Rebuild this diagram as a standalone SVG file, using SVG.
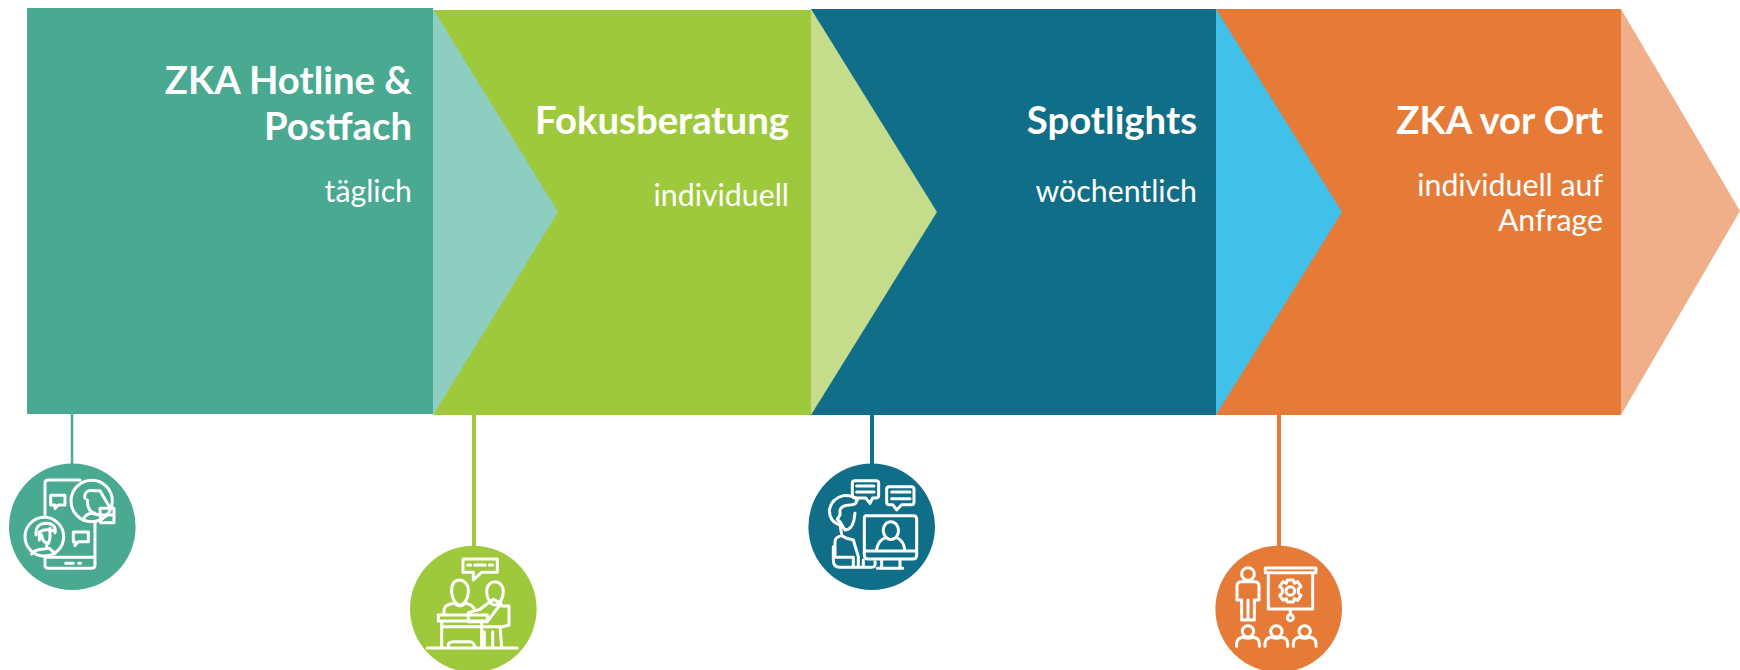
<svg xmlns="http://www.w3.org/2000/svg" width="1740" height="670" viewBox="0 0 1740 670">
<style>
text{font-family:"Lato","Liberation Sans",sans-serif;fill:#fff;text-anchor:end}
.t{font-weight:700;font-size:38.3px}
.s{font-size:30.3px}
.i{fill:none;stroke:#fff;stroke-width:9;stroke-linejoin:round;stroke-linecap:round}
</style>
<rect width="1740" height="670" fill="#fff"/>
<g id="chevrons">
<polygon points="1621,9 1740,211 1621,415" fill="#F1AF89"/>
<rect x="1216" y="9" width="405" height="406" fill="#E67B38"/>
<polygon points="1216,9 1342,212 1216,415" fill="#41C0E9"/>
<rect x="811" y="9" width="405" height="406" fill="#116E89"/>
<polygon points="811,9 937,212 811,415" fill="#C5DD8A"/>
<rect x="433" y="10" width="378" height="405" fill="#9FC93C"/>
<polygon points="433,9 558,212 433,415" fill="#8DCEC0"/>
<rect x="27" y="8" width="406" height="406" fill="#49A991"/>
</g>
<g id="connectors">
<line x1="72" y1="414" x2="72" y2="465" stroke="#49A991" stroke-width="2.5"/>
<line x1="474" y1="415" x2="474" y2="547" stroke="#9FC93C" stroke-width="4"/>
<line x1="872" y1="415" x2="872" y2="465" stroke="#116E89" stroke-width="4"/>
<line x1="1279" y1="415" x2="1279" y2="547" stroke="#E67B38" stroke-width="4"/>
</g>
<g id="node-hotline">
<text class="t" x="412" y="94">ZKA Hotline &amp;</text>
<text class="t" x="412" y="140">Postfach</text>
<text class="s" x="412" y="202">täglich</text>
<circle cx="72.3" cy="526.7" r="63.3" fill="#49A991"/>
<g class="i" transform="translate(0 400) scale(.3333)">
<path d="M135 350V250Q135 240 145 240H240M285 365V495Q285 505 275 505H145Q135 505 135 495V470M135 472H285M197 490H220M236 490H242"/>
<circle cx="275" cy="303" r="62"/><circle cx="133" cy="410" r="58"/>
<path d="M152 286H195V315H175L165 325V315H152ZM220 396H265V425H235L225 437V425H220Z"/>
<path d="M255 295Q250 270 280 272H300L322 310L332 325H300M262 300Q262 335 285 340M250 360Q255 342 275 340L298 345M300 325H342V368H302ZM302 345H342"/>
<path d="M108 405Q105 370 140 370Q170 372 165 398M120 395Q135 385 160 392M118 395V420M125 405Q128 430 145 430M150 385V410Q150 425 140 435V445M95 462Q105 448 130 447L148 445L165 460"/>
</g>
</g>
<g id="node-fokus">
<text class="t" x="789" y="134">Fokusberatung</text>
<text class="s" x="789" y="206">individuell</text>
<circle cx="473.3" cy="609" r="63.3" fill="#9FC93C"/>
<g class="i" transform="translate(400 510) scale(.3333)">
<path d="M189 147H292V187H245L220 210V187H189ZM203 165H212M224 165H256M268 165H278"/>
<path d="M155 240C155 195 205 205 205 240C205 270 190 285 180 285C170 285 155 270 155 240Z"/>
<path d="M260 245C260 205 310 205 310 245C310 265 298 285 285 285C272 285 260 265 260 245Z"/>
<path d="M132 315V298Q135 283 165 280Q180 295 195 280Q215 283 222 295M205 308L240 298L280 268L303 280L262 335H205ZM305 288H327V345L310 350H252M115 315H262V333H115ZM125 333V410M245 333V410M125 350H245M145 410V402Q150 395 160 395H210Q220 395 225 410M253 365V410M278 365V410M300 350L305 410M82 414H352"/>
</g>
</g>
<g id="node-spotlights">
<text class="t" x="1197" y="134">Spotlights</text>
<text class="s" x="1197" y="202">wöchentlich</text>
<circle cx="871.7" cy="526.7" r="63.3" fill="#116E89"/>
<g class="i" transform="translate(800 450) scale(.3333)">
<path d="M165 92H228Q236 92 236 100V136Q236 144 228 144H218L210 160L197 144H165Q157 144 157 136V100Q157 92 165 92ZM170 108H222M170 126H222"/>
<path d="M268 110H334Q342 110 342 118V156Q342 164 334 164H305L290 180L278 164H268Q260 164 260 156V118Q260 110 268 110ZM275 126H330M275 146H330"/>
<path d="M198 197H340Q350 197 350 207V315Q350 327 338 327H205Q193 327 193 315V207Q193 197 198 197ZM193 303H350M245 330V352M300 330V352M232 355H308"/>
<path d="M230 298Q235 270 258 262C240 240 255 215 272 215C290 215 305 240 288 262Q310 270 314 298M258 262Q272 275 288 262"/>
<path d="M172 150Q160 135 130 137Q95 145 88 180Q88 215 120 225L125 252M170 150Q170 165 150 165Q125 165 120 180V195L112 208L122 218L135 240Q155 240 162 210L165 190M105 315V275Q105 262 125 257L140 265L160 270L175 320M100 290V330Q100 352 120 352H215Q228 352 225 335M108 322H160V352M175 322V352M190 330V352"/>
</g>
</g>
<g id="node-vor-ort">
<text class="t" x="1603" y="134">ZKA vor Ort</text>
<text class="s" x="1603" y="196">individuell auf</text>
<text class="s" x="1603" y="231">Anfrage</text>
<circle cx="1278.7" cy="609" r="63.3" fill="#E67B38"/>
<g class="i" transform="translate(1210 530) scale(.3333)">
<circle cx="114" cy="132" r="19"/>
<path d="M95 155H133Q147 155 147 168V210H133V270H95V210H81V168Q81 155 95 155ZM114 210V270"/>
<path d="M166 114H318V128H166ZM175 128V237H308V128M241 237V253"/>
<circle cx="241" cy="263" r="9"/>
<circle cx="241" cy="183" r="13"/>
<path d="M232 150H250L253 160L263 155L273 170L265 177V189L273 196L263 211L253 206L250 216H232L229 206L219 211L209 196L217 189V177L209 170L219 155L229 160Z"/>
<circle cx="114" cy="304" r="17"/><path d="M80 349V340Q82 323 100 322Q114 328 128 322Q147 323 148 340V349"/>
<circle cx="199" cy="304" r="17"/><path d="M165 349V340Q167 323 185 322Q199 328 213 322Q232 323 233 340V349"/>
<circle cx="284" cy="304" r="17"/><path d="M250 349V340Q252 323 270 322Q284 328 298 322Q317 323 318 340V349"/>
</g>
</g>
</svg>
